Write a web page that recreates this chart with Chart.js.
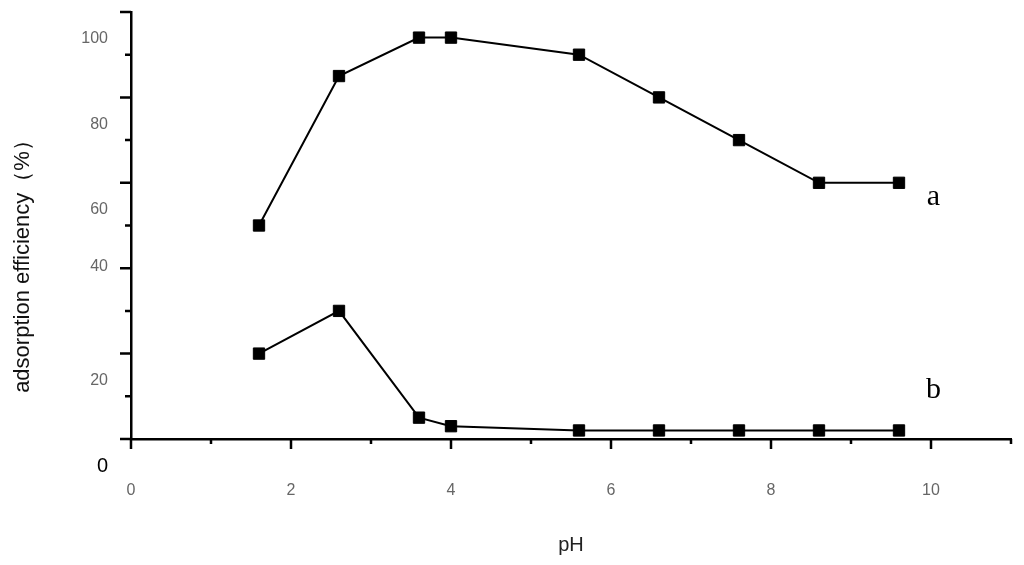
<!DOCTYPE html>
<html>
<head>
<meta charset="utf-8">
<script src="https://cdn.jsdelivr.net/npm/chart.js@4"></script>
<style>
  body { margin: 0; background: #fff; }
  #wrap { width: 1024px; height: 565px; }
</style>
</head>
<body>
<div id="wrap"><canvas id="myChart"></canvas></div>
<script>
  // values
  const phValues = [1.6, 2.6, 3.6, 4.0, 5.6, 6.6, 7.6, 8.6, 9.6];
  const effA = [50, 85, 94, 94, 90, 80, 70, 60, 60];
  const effB = [20, 30, 5, 3, 2, 2, 2, 2, 2];
  const xTickLabels = [0, 2, 4, 6, 8, 10];
  const yTickLabels = [0, 20, 40, 60, 80, 100];
  const seriesNames = ['a', 'b'];

  Chart.defaults.font.family = "'Liberation Sans', Arial, sans-serif";

  const toPoints = (ys) => phValues.map((x, i) => ({ x: x, y: ys[i] }));

  const noPad = (scale) => {
    scale.paddingTop = 0;
    scale.paddingBottom = 0;
    scale.paddingLeft = 0;
    scale.paddingRight = 0;
  };

  // tick marks, y title and a/b tags
  const decorations = {
    id: 'decorations',
    afterDraw(chart) {
      const { ctx, scales: { x, y } } = chart;
      const axisX = chart.chartArea.left;
      const axisY = chart.chartArea.bottom;
      ctx.save();
      ctx.strokeStyle = '#000';
      ctx.lineWidth = 2.5;
      ctx.beginPath();
      y.ticks.forEach(t => {
        const py = y.getPixelForValue(t.value);
        const len = yTickLabels.includes(t.value) ? 11 : 6;
        ctx.moveTo(axisX - len, py);
        ctx.lineTo(axisX, py);
      });
      x.ticks.forEach(t => {
        const px = x.getPixelForValue(t.value);
        const len = t.value % 2 === 0 ? 10 : 5;
        ctx.moveTo(px, axisY);
        ctx.lineTo(px, axisY + len);
      });
      ctx.stroke();

      // rotated y title
      ctx.save();
      ctx.translate(23, 261);
      ctx.rotate(-Math.PI / 2);
      ctx.fillStyle = '#111';
      ctx.font = "22px 'Liberation Sans', Arial, sans-serif";
      ctx.textAlign = 'center';
      ctx.textBaseline = 'middle';
      ctx.fillText('adsorption efficiency（%）', 0, 0);
      ctx.restore();

      // series tags
      ctx.fillStyle = '#000';
      ctx.font = "30px 'Liberation Serif', 'Times New Roman', serif";
      ctx.textAlign = 'center';
      ctx.textBaseline = 'alphabetic';
      ctx.fillText(seriesNames[0], x.getPixelForValue(10.03), y.getPixelForValue(54.8));
      ctx.fillText(seriesNames[1], x.getPixelForValue(10.03), y.getPixelForValue(9.6));
      ctx.restore();
    }
  };

  const ctx = document.getElementById('myChart').getContext('2d');

  new Chart(ctx, {
    type: 'line',
    data: {
      datasets: [{
        label: seriesNames[0],
        data: toPoints(effA),
        borderColor: '#000',
        borderWidth: 2,
        pointStyle: 'rect',
        pointRadius: 8,
        pointBorderWidth: 1,
        pointBackgroundColor: '#000',
        pointBorderColor: '#000',
        tension: 0
      }, {
        label: seriesNames[1],
        data: toPoints(effB),
        borderColor: '#000',
        borderWidth: 2,
        pointStyle: 'rect',
        pointRadius: 8,
        pointBorderWidth: 1,
        pointBackgroundColor: '#000',
        pointBorderColor: '#000',
        tension: 0
      }]
    },
    options: {
      responsive: true,
      maintainAspectRatio: false,
      animation: false,
      layout: {
        autoPadding: false,
        padding: { top: 12, right: 13, left: 0, bottom: 0 }
      },
      plugins: {
        legend: { display: false },
        tooltip: { enabled: false }
      },
      scales: {
        x: {
          type: 'linear',
          min: 0,
          max: 11,
          grid: { display: false, drawTicks: false },
          border: { display: true, color: '#000', width: 2.5 },
          ticks: {
            stepSize: 1,
            padding: 42,
            autoSkip: false,
            maxRotation: 0,
            color: '#666',
            font: { size: 16 },
            callback: (v) => xTickLabels.includes(v) ? String(v) : ''
          },
          title: {
            display: true,
            text: 'pH',
            color: '#222',
            font: { size: 20 },
            padding: { top: 0, bottom: 8 }
          },
          afterFit: (scale) => { scale.height = 126; noPad(scale); }
        },
        y: {
          min: 0,
          max: 100,
          grid: { display: false, drawTicks: false },
          border: { display: true, color: '#000', width: 2.5 },
          ticks: {
            stepSize: 10,
            padding: 23,
            autoSkip: false,
            labelOffset: 27,
            color: (c) => c.tick && c.tick.value === 0 ? '#000' : '#666',
            font: (c) => ({ size: c.tick && c.tick.value === 0 ? 20 : 16 }),
            callback: (v) => {
              if (!yTickLabels.includes(v)) return '';
              // the 40 label sits higher than the others in the figure
              return v === 40 ? ['40', '', '', ''] : String(v);
            }
          },
          afterFit: (scale) => { scale.width = 131; noPad(scale); }
        }
      }
    },
    plugins: [decorations]
  });
</script>
</body>
</html>
